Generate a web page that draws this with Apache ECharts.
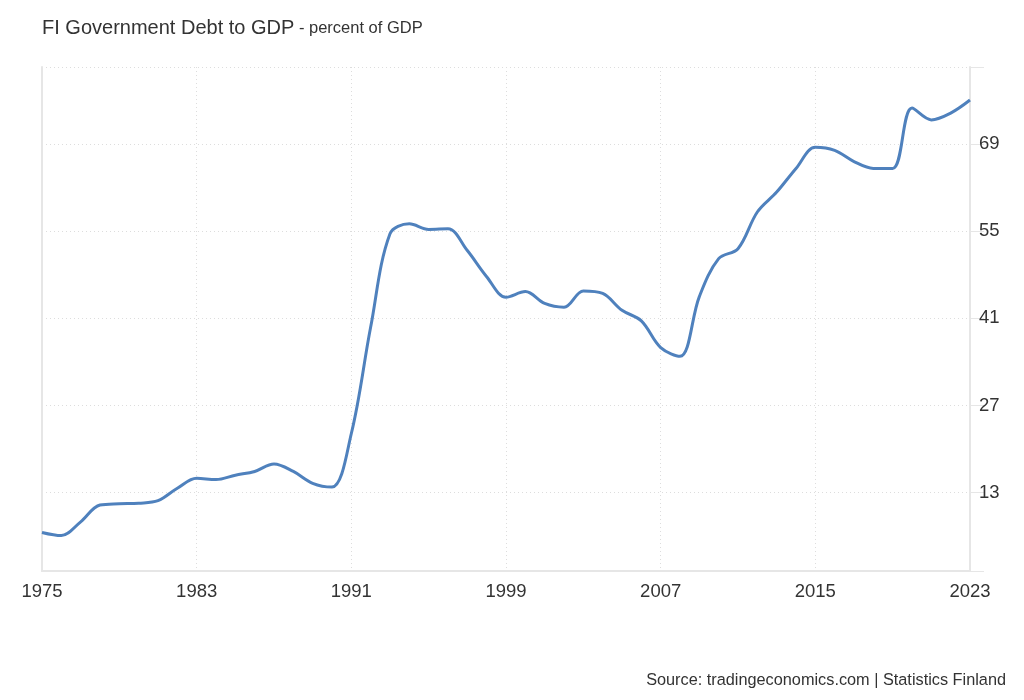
<!DOCTYPE html>
<html>
<head>
<meta charset="utf-8">
<script src="https://cdn.jsdelivr.net/npm/echarts@6/dist/echarts.min.js"></script>
<style>html,body{margin:0;padding:0;background:#fff}#c{width:1024px;height:700px}</style>
</head>
<body>
<div id="c"></div>
<script>
const years = [];
for (let y = 1975; y <= 2023; y++) years.push(String(y));
const debt = [6.6, 6.1, 8.3, 11.0, 11.2, 11.3, 11.7, 13.7, 15.3, 15.1,
  15.8, 16.4, 17.6, 16.4, 14.5, 13.9, 22.5, 39.6, 54.6, 56.2,
  55.3, 55.4, 51.9, 47.7, 44.4, 45.3, 43.4, 42.8, 45.4, 45.0,
  42.3, 40.6, 36.3, 34.9, 44.5, 50.6, 52.2, 58.1, 61.3, 65.1,
  68.5, 68.0, 66.2, 65.1, 65.1, 74.8, 72.9, 74.0, 76.1];
const yLabels = [13, 27, 41, 55, 69];
const yMin = 0.4, yMax = 81.4;

const chart = echarts.init(document.getElementById('c'), null, {renderer: 'canvas'});
const font = 'Liberation Sans, Arial, sans-serif';
chart.setOption({
  animation: false,
  backgroundColor: '#ffffff',
  textStyle: {fontFamily: font},
  title: [{
    text: '{a|FI Government Debt to GDP}{b| - percent of GDP}',
    left: 37, top: 13,
    textStyle: {fontWeight: 'normal', rich: {
      a: {fontSize: 20, color: '#333333', fontFamily: font, fontWeight: 'normal'},
      b: {fontSize: 16.5, color: '#333333', fontFamily: font, fontWeight: 'normal'}
    }}
  }, {
    text: 'Source: tradingeconomics.com | Statistics Finland',
    right: 13, top: 668,
    textStyle: {fontSize: 16.3, color: '#333333', fontWeight: 'normal', fontFamily: font}
  }],
  grid: {left: 42, right: 54, top: 67, bottom: 129},
  xAxis: {
    type: 'category',
    data: years,
    boundaryGap: false,
    axisLine: {show: true, lineStyle: {color: '#e6e6e6', width: 2}},
    axisTick: {show: false},
    axisLabel: {interval: 7, color: '#333333', fontSize: 18.5, margin: 11, fontFamily: font},
    splitLine: {show: true, interval: 7, lineStyle: {color: '#dddddd', type: [1, 3], width: 1}}
  },
  yAxis: [{
    type: 'value',
    position: 'right',
    min: yMin, max: yMax,
    axisLine: {show: true, lineStyle: {color: '#e6e6e6', width: 2}},
    axisTick: {show: true, length: 14, customValues: [yMin].concat(yLabels, [yMax]), lineStyle: {color: '#e6e6e6', width: 1}},
    axisLabel: {customValues: yLabels, color: '#333333', fontSize: 18.5, margin: 9, fontFamily: font},
    splitLine: {show: true, lineStyle: {color: '#dddddd', type: [1, 3], width: 1}}
  }, {
    type: 'value',
    position: 'left',
    min: yMin, max: yMax,
    axisLine: {show: true, lineStyle: {color: '#e6e6e6', width: 2}},
    axisTick: {show: false},
    axisLabel: {show: false},
    splitLine: {show: false}
  }],
  series: [{
    type: 'line',
    data: debt,
    smooth: 0.35,
    symbol: 'none',
    lineStyle: {color: '#4f81bd', width: 3},
    itemStyle: {color: '#4f81bd'}
  }]
});
</script>
</body>
</html>
